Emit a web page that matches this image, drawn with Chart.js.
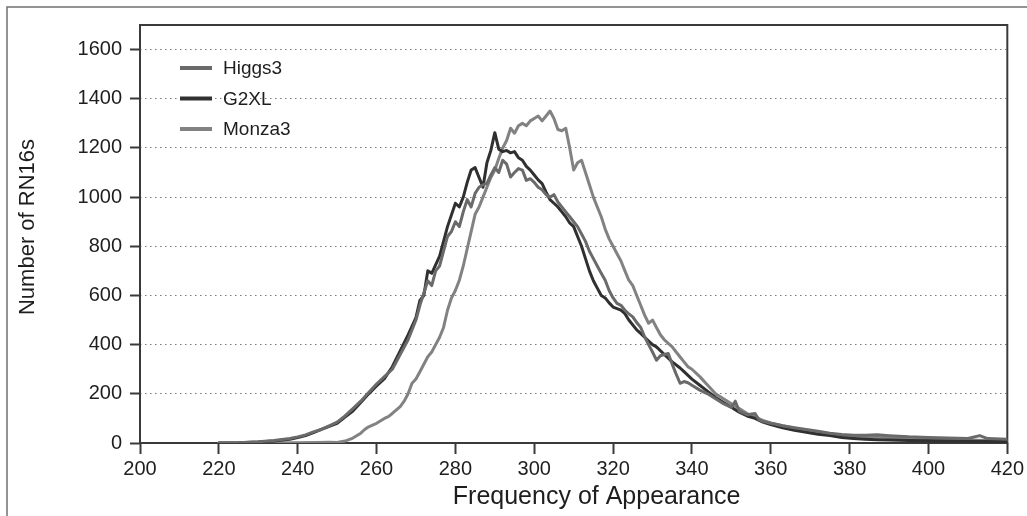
<!DOCTYPE html>
<html>
<head>
<meta charset="utf-8">
<script src="https://cdn.jsdelivr.net/npm/chart.js@4.4.0/dist/chart.umd.min.js"></script>
<style>
  html, body { margin: 0; padding: 0; background: #ffffff; }
  #wrap { position: relative; width: 1027px; height: 516px; }
</style>
</head>
<body>
<div id="wrap"><canvas id="c" width="1027" height="516"></canvas></div>
<script>
// ---- data ----
const seriesNames = ["Higgs3", "G2XL", "Monza3"];
const xTitle = "Frequency of Appearance";
const yTitle = "Number of RN16s";
const xTicksMin = 200, xTicksMax = 420, xStep = 20;
const yTicksMin = 0, yTicksMax = 1700, yStep = 200;

const higgs3X = [220,225,230,234,238,240,242,244,246,248,250,252,254,256,258,260,262,264,266,268,270,271,272,273,274,275,276,277,278,279,280,281,282,283,284,285,286,287,288,289,290,291,292,293,294,295,296,297,298,299,300,301,302,303,304,305,306,307,308,309,310,311,312,313,314,315,316,317,318,319,320,321,322,323,324,325,326,327,328,329,330,331,332,333,334,335,336,337,338,339,340,342,344,346,348,350,351,352,354,356,357,358,360,363,366,369,372,375,378,381,384,387,390,395,400,405,410,413,415,420];
const higgs3Y = [0,1,5,10,18,25,33,45,55,70,85,110,140,170,205,240,270,300,360,420,500,560,610,660,640,700,720,780,840,860,900,880,940,990,960,1015,1040,1050,1056,1090,1120,1100,1150,1134,1082,1100,1116,1110,1068,1075,1060,1040,1030,1010,1000,1010,980,960,940,920,900,880,850,820,780,750,720,690,662,620,590,568,560,540,525,513,490,470,432,400,370,337,355,360,364,320,280,243,250,245,235,215,200,180,160,145,170,130,115,120,95,88,80,70,62,55,48,40,35,32,32,34,30,25,22,20,18,30,18,15];

const g2xlX = [220,225,230,234,238,240,242,244,246,248,250,252,254,256,258,260,262,264,266,268,270,271,272,273,274,276,278,280,281,282,283,284,285,286,287,288,289,290,291,292,293,294,295,296,297,298,299,300,301,302,303,304,305,306,307,308,309,310,311,312,313,314,315,316,317,318,319,320,322,323,324,326,327,328,330,331,333,335,337,338,340,342,344,346,348,350,352,354,356,358,360,363,366,369,372,375,378,381,384,387,390,395,400,405,410,415,420];
const g2xlY = [0,1,4,8,15,22,30,42,55,68,80,105,130,165,200,232,262,310,375,440,510,580,600,700,690,760,880,975,960,1000,1060,1110,1120,1080,1040,1140,1190,1262,1195,1185,1190,1180,1185,1160,1150,1125,1110,1090,1070,1055,1020,990,975,960,940,920,895,880,840,800,750,700,660,630,600,590,570,553,540,526,500,460,446,430,400,391,360,330,305,290,260,235,210,185,165,145,125,110,100,85,75,62,52,44,36,30,22,18,15,13,12,10,9,8,7,6,6];

const monza3X = [220,230,240,245,248,250,252,254,256,257,258,260,262,263,264,266,267,268,269,270,271,272,273,274,275,276,277,278,279,280,281,282,283,284,285,286,287,288,289,290,291,292,293,294,295,296,297,298,299,300,301,302,303,304,305,306,307,308,309,310,311,312,313,314,315,316,317,318,319,320,321,322,323,324,325,326,327,328,329,330,331,332,333,334,335,336,337,338,339,340,342,344,346,348,350,352,354,356,358,360,363,366,369,372,375,378,381,384,387,390,395,400,405,410,415,420];
const monza3Y = [0,0,1,2,3,2,8,20,40,55,66,80,100,107,120,148,170,200,243,260,290,320,351,370,400,430,470,540,590,620,662,720,790,860,930,960,1000,1040,1080,1110,1157,1200,1230,1280,1260,1290,1300,1290,1310,1320,1330,1310,1330,1350,1320,1275,1270,1280,1200,1110,1140,1150,1100,1050,1000,960,920,870,830,800,770,740,700,662,640,600,560,520,487,500,470,440,420,405,391,370,350,330,310,300,270,235,200,180,160,140,120,105,92,82,70,60,50,42,36,30,28,26,24,22,18,15,14,12,10,8];

const seriesColors = ["#6a6a6a", "#303030", "#828282"];

function pts(xs, ys) { return xs.map((x, i) => ({ x: x, y: ys[i] })); }

const FONT = "'Liberation Sans', Arial, Helvetica, sans-serif";
const TEXT = "#1e1e1e";
const AXIS = "#3a3a3a";

// frame + plot box (drawn under the data lines)
const framePlugin = {
  id: 'frame',
  beforeDraw(chart) {
    const ctx = chart.ctx;
    ctx.save();
    ctx.fillStyle = '#ffffff';
    ctx.fillRect(0, 0, chart.width, chart.height);
    ctx.strokeStyle = '#707070';
    ctx.lineWidth = 1.5;
    ctx.beginPath();
    ctx.moveTo(7, chart.height);
    ctx.lineTo(7, 7);
    ctx.lineTo(chart.width, 7);
    ctx.stroke();
    ctx.restore();
  },
  beforeDatasetsDraw(chart) {
    const a = chart.chartArea, ctx = chart.ctx;
    ctx.save();
    ctx.strokeStyle = AXIS;
    ctx.lineWidth = 2;
    ctx.strokeRect(a.left, a.top, a.right - a.left, a.bottom - a.top);
    ctx.restore();
  },
  afterDraw(chart) {
    const a = chart.chartArea, ctx = chart.ctx;
    ctx.save();
    ctx.fillStyle = TEXT;
    ctx.textAlign = 'center';
    ctx.textBaseline = 'middle';
    // x axis title
    ctx.font = "25px " + FONT;
    ctx.fillText(xTitle, (a.left + a.right) / 2 + 23, a.bottom + 54);
    // y axis title
    ctx.font = "22px " + FONT;
    ctx.translate(28, (a.top + a.bottom) / 2 - 7);
    ctx.rotate(-Math.PI / 2);
    ctx.fillText(yTitle, 0, 0);
    ctx.restore();
  }
};

// legend inside plot, top-left
const legendPlugin = {
  id: 'insideLegend',
  afterDatasetsDraw(chart) {
    const a = chart.chartArea, ctx = chart.ctx;
    ctx.save();
    ctx.font = "19px " + FONT;
    ctx.textBaseline = 'middle';
    chart.data.datasets.forEach((ds, i) => {
      const y = a.top + 43 + i * 30.5;
      ctx.strokeStyle = ds.borderColor;
      ctx.lineWidth = 4;
      ctx.beginPath();
      ctx.moveTo(a.left + 40, y);
      ctx.lineTo(a.left + 72, y);
      ctx.stroke();
      ctx.fillStyle = TEXT;
      ctx.fillText(ds.label, a.left + 83, y + 1);
    });
    ctx.restore();
  }
};

new Chart(document.getElementById('c'), {
  type: 'line',
  data: {
    datasets: [
      { label: seriesNames[0], data: pts(higgs3X, higgs3Y), borderColor: seriesColors[0] },
      { label: seriesNames[1], data: pts(g2xlX, g2xlY), borderColor: seriesColors[1] },
      { label: seriesNames[2], data: pts(monza3X, monza3Y), borderColor: seriesColors[2] }
    ]
  },
  options: {
    responsive: false,
    animation: false,
    parsing: false,
    layout: { padding: { top: 25, right: 19, left: 0, bottom: 0 } },
    elements: {
      point: { radius: 0 },
      line: { borderWidth: 3, tension: 0, borderJoinStyle: 'round', borderCapStyle: 'round' }
    },
    plugins: { legend: { display: false }, tooltip: { enabled: false } },
    scales: {
      x: {
        type: 'linear',
        min: xTicksMin, max: xTicksMax,
        afterFit(s) { s.height = 73; },
        ticks: { stepSize: xStep, color: TEXT, font: { family: FONT, size: 20 }, padding: 3, maxRotation: 0,
                 callback: (v) => String(v) },
        grid: { drawOnChartArea: false, drawTicks: true, tickLength: 11, tickWidth: 2, tickColor: AXIS, color: AXIS },
        border: { display: false },
        title: { display: false }
      },
      y: {
        type: 'linear',
        min: yTicksMin, max: yTicksMax,
        afterFit(s) { s.width = 140; },
        ticks: { stepSize: yStep, includeBounds: false, color: TEXT, font: { family: FONT, size: 20 }, padding: 8,
                 callback: (v) => String(v) },
        grid: { drawOnChartArea: true, drawTicks: true, tickLength: 10, tickWidth: 2, tickColor: AXIS, tickBorderDash: [], color: '#7a7a7a', lineWidth: 1 },
        border: { display: false, dash: [1.5, 3.5] },
        title: { display: false }
      }
    }
  },
  plugins: [framePlugin, legendPlugin]
});
</script>
</body>
</html>
